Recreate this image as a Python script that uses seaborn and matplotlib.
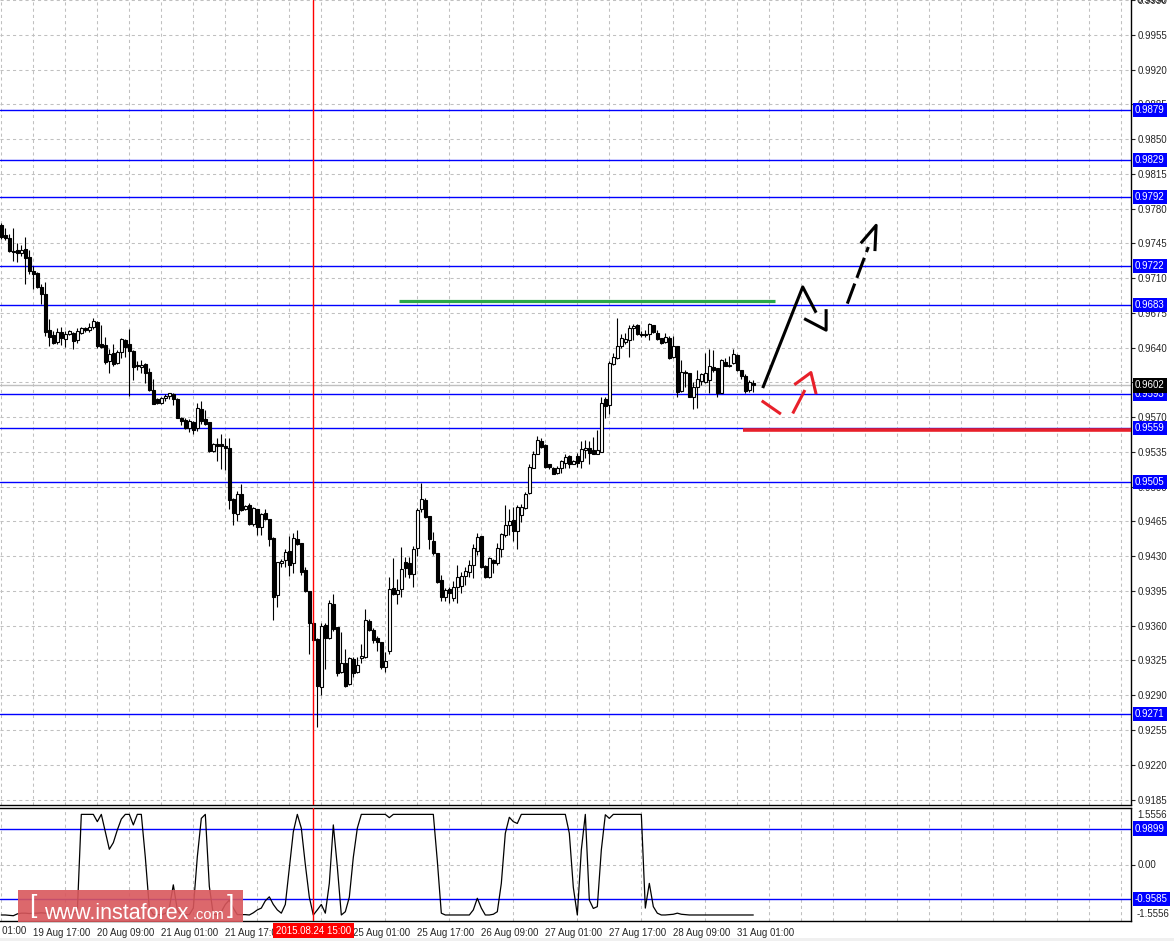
import numpy as np
import pandas as pd
import matplotlib
matplotlib.use('Agg')
import matplotlib.pyplot as plt
import matplotlib.transforms as mtransforms
from matplotlib.patches import Rectangle
import seaborn as sns

sns.set_style('white')
plt.rcParams['font.family'] = ['Liberation Sans', 'DejaVu Sans']

W, H = 1174, 941

# hourly candles, prices in pips (x 0.0001)
opens = [9763, 9753, 9750, 9737, 9738, 9735, 9739, 9731, 9717, 9715,
         9701, 9694, 9658, 9653, 9646, 9656, 9649, 9654, 9655, 9648,
         9655, 9660, 9658, 9661, 9666, 9644, 9643, 9627, 9635, 9625,
         9636, 9648, 9644, 9637, 9623, 9620, 9624, 9615, 9597, 9588,
         9584, 9589, 9591, 9593, 9588, 9569, 9567, 9559, 9565, 9559,
         9578, 9568, 9565, 9536, 9543, 9543, 9541, 9539, 9488, 9472,
         9493, 9478, 9482, 9462, 9478, 9459, 9473, 9467, 9448, 9391,
         9423, 9426, 9435, 9423, 9447, 9443, 9416, 9395, 9363, 9347,
         9298, 9361, 9348, 9382, 9359, 9313, 9322, 9301, 9327, 9313,
         9328, 9329, 9365, 9356, 9348, 9344, 9318, 9335, 9398, 9392,
         9397, 9424, 9423, 9412, 9438, 9478, 9487, 9470, 9445, 9433,
         9406, 9389, 9397, 9388, 9399, 9400, 9410, 9414, 9421, 9435,
         9450, 9420, 9409, 9426, 9423, 9437, 9451, 9461, 9466, 9455,
         9471, 9479, 9494, 9519, 9533, 9546, 9542, 9523, 9519, 9514,
         9519, 9524, 9531, 9523, 9531, 9526, 9537, 9539, 9537, 9533,
         9535, 9588, 9582, 9624, 9630, 9642, 9646, 9648, 9660, 9663,
         9654, 9653, 9654, 9663, 9655, 9650, 9646, 9650, 9631, 9642,
         9596, 9615, 9614, 9590, 9600, 9606, 9605, 9607, 9620, 9619,
         9594, 9626, 9621, 9625, 9633, 9617, 9611, 9597, 9604]
highs = [9765, 9760, 9754, 9760, 9745, 9743, 9751, 9738, 9722, 9716,
         9704, 9706, 9669, 9657, 9660, 9661, 9657, 9658, 9656, 9660,
         9661, 9661, 9665, 9670, 9667, 9663, 9651, 9639, 9644, 9638,
         9650, 9649, 9659, 9638, 9627, 9628, 9625, 9619, 9608, 9589,
         9590, 9593, 9594, 9594, 9589, 9570, 9569, 9568, 9566, 9584,
         9586, 9577, 9565, 9544, 9549, 9553, 9549, 9549, 9489, 9496,
         9503, 9482, 9484, 9480, 9478, 9473, 9478, 9467, 9449, 9424,
         9427, 9437, 9450, 9453, 9456, 9443, 9419, 9395, 9365, 9348,
         9363, 9363, 9386, 9392, 9359, 9354, 9337, 9329, 9329, 9329,
         9342, 9377, 9367, 9358, 9350, 9344, 9334, 9409, 9428, 9407,
         9439, 9429, 9429, 9440, 9479, 9504, 9489, 9470, 9454, 9433,
         9411, 9398, 9399, 9405, 9421, 9414, 9419, 9426, 9442, 9453,
         9450, 9421, 9429, 9427, 9443, 9453, 9482, 9478, 9480, 9482,
         9483, 9495, 9523, 9536, 9551, 9549, 9543, 9523, 9520, 9521,
         9527, 9533, 9532, 9527, 9534, 9546, 9547, 9546, 9550, 9557,
         9590, 9590, 9627, 9635, 9670, 9654, 9655, 9663, 9664, 9664,
         9657, 9658, 9665, 9663, 9658, 9650, 9655, 9652, 9652, 9642,
         9628, 9617, 9614, 9605, 9617, 9614, 9635, 9639, 9638, 9619,
         9629, 9630, 9632, 9639, 9634, 9617, 9613, 9607, 9607]
lows = [9749, 9748, 9736, 9727, 9726, 9732, 9704, 9714, 9699, 9700,
        9684, 9652, 9642, 9644, 9644, 9643, 9641, 9653, 9639, 9645,
        9654, 9656, 9656, 9659, 9640, 9640, 9624, 9614, 9622, 9624,
        9630, 9631, 9591, 9607, 9617, 9614, 9604, 9596, 9583, 9583,
        9583, 9586, 9588, 9582, 9569, 9562, 9558, 9555, 9553, 9556,
        9563, 9562, 9535, 9535, 9526, 9518, 9517, 9478, 9461, 9465,
        9476, 9477, 9461, 9460, 9451, 9451, 9466, 9440, 9366, 9379,
        9419, 9419, 9410, 9413, 9441, 9411, 9394, 9332, 9345, 9258,
        9290, 9316, 9347, 9355, 9309, 9312, 9298, 9300, 9308, 9312,
        9322, 9328, 9355, 9343, 9335, 9316, 9313, 9332, 9391, 9382,
        9389, 9409, 9408, 9399, 9430, 9475, 9468, 9437, 9431, 9403,
        9385, 9385, 9383, 9385, 9383, 9393, 9401, 9409, 9408, 9431,
        9418, 9408, 9408, 9413, 9421, 9429, 9449, 9451, 9445, 9437,
        9464, 9478, 9493, 9519, 9533, 9539, 9519, 9518, 9513, 9513,
        9514, 9519, 9519, 9523, 9520, 9519, 9529, 9523, 9533, 9533,
        9535, 9569, 9573, 9623, 9629, 9640, 9644, 9631, 9648, 9653,
        9651, 9651, 9648, 9655, 9648, 9644, 9645, 9629, 9630, 9590,
        9595, 9600, 9590, 9578, 9579, 9602, 9604, 9594, 9615, 9590,
        9594, 9621, 9620, 9624, 9616, 9608, 9594, 9595, 9595]
closes = [9751, 9750, 9737, 9736, 9735, 9738, 9730, 9717, 9714, 9701,
          9694, 9656, 9651, 9645, 9656, 9650, 9654, 9657, 9647, 9657,
          9660, 9658, 9661, 9667, 9642, 9641, 9626, 9634, 9624, 9636,
          9649, 9641, 9637, 9620, 9621, 9623, 9614, 9597, 9583, 9584,
          9589, 9591, 9594, 9588, 9569, 9566, 9559, 9566, 9557, 9579,
          9566, 9563, 9536, 9543, 9541, 9541, 9539, 9487, 9473, 9493,
          9477, 9481, 9462, 9479, 9459, 9472, 9467, 9447, 9389, 9424,
          9425, 9434, 9421, 9448, 9442, 9414, 9395, 9363, 9346, 9299,
          9360, 9348, 9383, 9357, 9312, 9322, 9299, 9328, 9312, 9320,
          9330, 9366, 9356, 9346, 9344, 9318, 9324, 9397, 9392, 9396,
          9417, 9418, 9412, 9437, 9477, 9488, 9469, 9447, 9433, 9404,
          9389, 9396, 9393, 9399, 9409, 9410, 9415, 9421, 9438, 9449,
          9419, 9409, 9428, 9423, 9438, 9452, 9461, 9465, 9455, 9480,
          9480, 9493, 9520, 9533, 9547, 9540, 9520, 9520, 9513, 9519,
          9526, 9530, 9523, 9526, 9524, 9538, 9539, 9534, 9533, 9537,
          9584, 9581, 9625, 9631, 9642, 9650, 9649, 9660, 9662, 9654,
          9653, 9654, 9664, 9656, 9649, 9645, 9651, 9630, 9642, 9595,
          9615, 9614, 9590, 9600, 9608, 9613, 9614, 9622, 9617, 9594,
          9628, 9622, 9623, 9634, 9617, 9611, 9596, 9605, 9602]

# oscillator in the lower window
indicator = [-1.39, -1.39, -1.40, -1.41, -1.36, -1.34, -1.34, -1.35, -1.34, -1.34,
             -1.33, -1.34, -1.34, -1.35, -1.34, -1.34, -1.33, -1.34, -1.34, -1.30,
             1.38, 1.38, 1.38, 1.38, 1.18, 1.38, 0.90, 0.42, 0.60, 0.95,
             1.25, 1.38, 1.38, 1.09, 1.38, 1.38, 0.20, -1.20, -1.38, -1.38,
             -1.38, -1.35, -1.20, -0.56, -1.25, -1.38, -1.38, -1.38, -1.20, 0.21,
             1.27, 1.38, -0.60, -1.38, -1.38, -1.30, -1.10, -0.98, -1.20, -1.38,
             -1.38, -1.38, -1.39, -1.33, -1.25, -1.20, -1.00, -0.89, -1.10, -1.25,
             -1.34, -1.10, -0.10, 0.90, 1.38, 1.00, 0.00, -0.90, -1.39, -1.25,
             -1.10, -1.34, -0.52, 1.09, -0.06, -1.39, -1.30, -0.90, 0.20, 1.00,
             1.38, 1.38, 1.38, 1.38, 1.38, 1.38, 1.38, 1.29, 1.38, 1.38,
             1.38, 1.38, 1.38, 1.38, 1.38, 1.38, 1.38, 1.38, 1.38, 0.10,
             -1.34, -1.39, -1.39, -1.39, -1.39, -1.39, -1.39, -1.39, -1.25, -0.93,
             -1.20, -1.39, -1.39, -1.37, -1.30, -0.52, 0.86, 1.30, 1.18, 1.13,
             1.38, 1.38, 1.38, 1.38, 1.38, 1.38, 1.38, 1.38, 1.38, 1.38,
             1.38, 1.38, 0.86, -0.63, -1.39, 0.40, 1.38, -0.98, -1.21, -1.16,
             0.40, 1.37, 1.27, 1.38, 1.38, 1.38, 1.38, 1.38, 1.38, 1.38,
             1.38, -1.20, -0.52, -1.16, -1.34, -1.39, -1.39, -1.38, -1.37, -1.34,
             -1.37, -1.38, -1.39, -1.39, -1.39, -1.39, -1.39, -1.39, -1.39, -1.39,
             -1.39, -1.39, -1.39, -1.39, -1.39, -1.39, -1.39, -1.39, -1.39]

levels = [0.9879, 0.9829, 0.9792, 0.9722, 0.9683, 0.9593, 0.9559, 0.9505, 0.9271]
ind_levels = [0.9899, -0.9585]
ind_limit = 1.5556
bid = 0.9602
first_bar = '2015-08-19 09:00'
last_bar = '2015-08-31 05:00'
cursor_bar = 78
cursor_label = '2015.08.24 15:00'

# hand drawn objects: (bar, price)
green_line = [(99.4, 0.9687), (193.4, 0.9687)]
red_line = [(185.4, 0.9557), (282.4, 0.9557)]
black_path = [(190.35, 0.95993), (200.35, 0.97011), (203.7, 0.96752)]
black_head = [(200.7, 0.96692), (206.2, 0.96576), (206.2, 0.96787)]
dash_path = [(211.5, 0.96843), (216.75, 0.97413)]
dash_head = [(214.85, 0.97450), (218.7, 0.97631), (218.4, 0.97372)]
red_down = [(190.1, 0.95865), (194.9, 0.95731)]
red_up = [(197.85, 0.95737), (200.9, 0.95973)]
red_head = [(198.25, 0.96026), (202.4, 0.96149), (203.7, 0.95932)]

times = pd.date_range(first_bar, last_bar, freq='h')
times = times[times.dayofweek < 5]
df = pd.DataFrame({'time': times,
                   'open': np.array(opens) / 1e4, 'high': np.array(highs) / 1e4,
                   'low': np.array(lows) / 1e4, 'close': np.array(closes) / 1e4,
                   'ind': indicator})
df['bar'] = np.arange(len(df))

fig = plt.figure(figsize=(W / 100, H / 100), dpi=100)
ax = fig.add_axes([0, 1 - 805 / H, 1131 / W, 805 / H])
ax2 = fig.add_axes([0, 1 - 921 / H, 1131 / W, 113 / H])

x_left, x_right = -0.33, 282.42
grid_kw = dict(color='#c0c0c0', linestyle=(0, (3, 3)), linewidth=0.75)
lbl_x = 1 + 4 / 1131

# ---- price window
ax.set_xlim(x_left, x_right)
ax.set_ylim(0.91795, 0.99885)
ax.set_xticks(np.arange(0, 283, 8))
ax.set_xticklabels([])
ax.tick_params(axis='x', length=0)
ax.yaxis.tick_right()
ax.set_yticks(np.arange(9185, 9991, 35) / 1e4)
ax.set_yticklabels([f'{v:.4f}' for v in np.arange(9185, 9991, 35) / 1e4])
ax.tick_params(axis='y', length=3, width=0.8, labelsize=7, pad=2, direction='out')
ax.grid(True, **grid_kw)
for s in ['left', 'top']:
    ax.spines[s].set_visible(False)
for s in ['right', 'bottom']:
    ax.spines[s].set_color('black')
    ax.spines[s].set_linewidth(1)

up = df['close'] >= df['open']
ax.vlines(df['bar'], df['low'], df['high'], color='black', lw=0.8, zorder=3)
ax.bar(df['bar'], (df['close'] - df['open']).abs(),
       bottom=df[['open', 'close']].min(axis=1), width=0.62,
       color=np.where(up, 'white', 'black'), edgecolor='black', linewidth=0.8, zorder=4)

ytrans = mtransforms.blended_transform_factory(ax.transAxes, ax.transData)
for lv in levels:
    ax.axhline(lv, color='#0000ff', lw=1, zorder=2)
    ax.text(lbl_x, lv, f'{lv:.4f}', transform=ytrans, fontsize=7, color='white',
            va='center', ha='left', clip_on=False, zorder=6,
            bbox=dict(boxstyle='square,pad=0.22', fc='#0000ff', ec='none'))
ax.axhline(bid, color='#c0c0c0', lw=1, zorder=2)
ax.text(lbl_x, bid, f'{bid:.4f}', transform=ytrans, fontsize=7, color='white',
        va='center', ha='left', clip_on=False, zorder=6,
        bbox=dict(boxstyle='square,pad=0.22', fc='black', ec='none'))
ax.text(lbl_x + 2 / 1131, 0.9990, '0.9990', transform=ytrans, fontsize=7,
        va='center', ha='left', clip_on=False)

# drawn objects
def draw(pts, **kw):
    xs, ys = zip(*pts)
    ax.plot(xs, ys, solid_capstyle='butt', zorder=5, **kw)

draw(green_line, color='#2aa84a', lw=2.3)
draw(red_line, color='#e8202a', lw=2.6)
draw(black_path, color='black', lw=2.2)
draw(black_head, color='black', lw=2.2)
draw(dash_path, color='black', lw=2.2, linestyle=(0, (7, 2)))
draw(dash_head, color='black', lw=2.2)
draw(red_down, color='#e8202a', lw=2.2)
draw(red_up, color='#e8202a', lw=2.2)
draw(red_head, color='#e8202a', lw=2.2)

ax.axvline(cursor_bar, color='red', lw=1, zorder=5)

# ---- indicator window
sns.lineplot(data=df, x='bar', y='ind', ax=ax2, color='black', lw=0.9, zorder=4)
ax2.set_xlim(x_left, x_right)
ax2.set_ylim(-ind_limit, ind_limit)
ax2.set_xlabel('')
ax2.set_ylabel('')
ax2.set_xticks(np.arange(0, 283, 8), minor=True)
tick_bars = np.arange(8, len(df), 16)
ax2.set_xticks(tick_bars)
ax2.set_xticklabels([df['time'][b].strftime('%d %b %H:%M') for b in tick_bars],
                    ha='left')
ax2.tick_params(axis='x', which='major', length=3, width=0.8, labelsize=7, pad=2)
ax2.tick_params(axis='x', which='minor', length=0)
ax2.yaxis.tick_right()
ax2.set_yticks([0])
ax2.set_yticklabels(['0.00'])
ax2.tick_params(axis='y', length=3, width=0.8, labelsize=7, pad=2)
ax2.grid(True, which='minor', axis='x', **grid_kw)
ax2.grid(True, which='major', axis='y', **grid_kw)
ax2.grid(False, which='major', axis='x')
ax2.spines['left'].set_visible(False)
for s in ['right', 'bottom', 'top']:
    ax2.spines[s].set_color('black')
    ax2.spines[s].set_linewidth(1)

ytrans2 = mtransforms.blended_transform_factory(ax2.transAxes, ax2.transData)
for lv in ind_levels:
    ax2.axhline(lv, color='#0000ff', lw=1, zorder=2)
    ax2.text(lbl_x, lv, f'{lv:.4f}', transform=ytrans2, fontsize=7, color='white',
             va='center', ha='left', clip_on=False, zorder=6,
             bbox=dict(boxstyle='square,pad=0.22', fc='#0000ff', ec='none'))
ax2.text(lbl_x + 2 / 1131, ind_limit * 0.97, f'{ind_limit:.4f}', transform=ytrans2,
         fontsize=7, va='top', ha='left', clip_on=False)
ax2.text(lbl_x + 2 / 1131, -ind_limit * 0.97, f'{-ind_limit:.4f}', transform=ytrans2,
         fontsize=7, va='bottom', ha='left', clip_on=False)
ax2.axvline(cursor_bar, color='red', lw=1, zorder=5)

xtrans2 = mtransforms.blended_transform_factory(ax2.transData, ax2.transAxes)
prev_label = (df['time'][0] - pd.Timedelta(hours=8)).strftime('%d %b %H:%M')
ax2.text(-8, -0.09, prev_label, transform=xtrans2, fontsize=7, va='center',
         ha='left', clip_on=False)
ax2.text(cursor_bar, -0.09, cursor_label, transform=xtrans2, fontsize=7,
         color='white', va='center', ha='center', clip_on=False, zorder=8,
         bbox=dict(boxstyle='square,pad=0.3', fc='#ff0000', ec='none'))

# watermark
fig.patches.append(Rectangle((18 / W, 1 - 922 / H), 225 / W, 32 / H,
                             transform=fig.transFigure, fc='#d9575c', ec='none',
                             alpha=0.9, zorder=5))
fig.patches.append(Rectangle((0, 0), 1, 3 / H, transform=fig.transFigure,
                             fc='#f0f0f0', ec='none', zorder=5))
wm_font = ['Liberation Sans Narrow', 'Liberation Sans', 'DejaVu Sans']
fig.text(29 / W, 1 - 906 / H, '[', fontsize=19, color='white', va='center',
         family=wm_font, zorder=6)
fig.text(44 / W, 1 - 919 / H, 'www.instaforex', fontsize=15.5, color='white',
         va='baseline', family=wm_font, zorder=6)
fig.text(193 / W, 1 - 919 / H, '.com', fontsize=10.5, color='white',
         va='baseline', family=wm_font, zorder=6)
fig.text(227 / W, 1 - 906 / H, ']', fontsize=19, color='white', va='center',
         family=wm_font, zorder=6)

fig.savefig('out.png', dpi=100, facecolor='white')
